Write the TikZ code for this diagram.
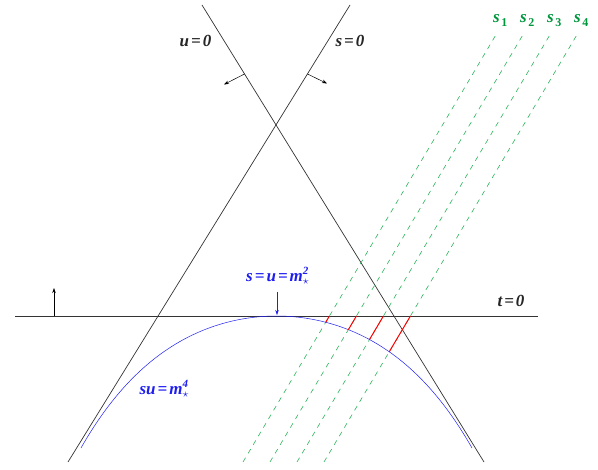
\documentclass[tikz,border=0pt]{standalone}
\usepackage{fontspec}
\setmainfont{Liberation Serif}
\usetikzlibrary{arrows.meta,intersections}
\definecolor{lblgreen}{RGB}{0,150,60}
\definecolor{dashgreen}{RGB}{40,180,90}
\definecolor{myblue}{RGB}{30,30,240}
\newcommand\eqs{\hspace{0.12em}=\hspace{0.12em}}
\newcommand\supsub[1]{\mbox{\rlap{\raisebox{7.5pt}{\fontsize{11}{11}\selectfont #1}}\raisebox{-3pt}{$\scriptstyle\star$}}}
\newcommand\subs[1]{\hspace{1.5pt}\raisebox{-4pt}{\fontsize{12}{12}\selectfont\upshape #1}}
\begin{document}
\begin{tikzpicture}[x=1pt,y=-1pt,
  lbl/.style={font=\fontsize{17}{19}\selectfont\bfseries\itshape, inner sep=0pt, anchor=base},
  axis/.style={black!80, line width=0.7pt},
  gdash/.style={dashgreen, line width=0.6pt, dash pattern=on 5pt off 5pt},
  redseg/.style={red, line width=1pt},
  arr/.style={-{Stealth[length=5pt,width=3.5pt]}, line width=0.5pt}]
\useasboundingbox (0,0) rectangle (598,470);
% main lines
\coordinate (uA) at (202,5);   \coordinate (uB) at (484,462);
\coordinate (sA) at (350,5);   \coordinate (sB) at (68,462);
\coordinate (tA) at (15,316);  \coordinate (tB) at (538,316);
\draw[axis] (uA) -- (uB);
\draw[axis] (sA) -- (sB);
\draw[axis, name path=tline] (tA) -- (tB);
% green dashed lines
\coordinate (g1b) at (243,462); \coordinate (g1t) at (497,33);
\coordinate (g2b) at (270,462); \coordinate (g2t) at (524,33);
\coordinate (g3b) at (297,462); \coordinate (g3t) at (551,33);
\coordinate (g4b) at (324,462); \coordinate (g4t) at (578,33);
\draw[gdash, name path=g1] (g1b) -- (g1t);
\draw[gdash, name path=g2] (g2b) -- (g2t);
\draw[gdash, name path=g3] (g3b) -- (g3t);
\draw[gdash, name path=g4] (g4b) -- (g4t);
% curve su = m^4
\draw[myblue, line width=0.5pt, name path=curve]
  plot[domain=-195.5:195.5, samples=120] ({276.5+\x}, {316+50.7*(cosh(\x/100)-1)});
% red segments
\path[name intersections={of=curve and g1, by=c1}];
\path[name intersections={of=curve and g2, by=c2}];
\path[name intersections={of=curve and g3, by=c3}];
\path[name intersections={of=curve and g4, by=c4}];
\path[name intersections={of=tline and g1, by=r1}];
\path[name intersections={of=tline and g2, by=r2}];
\path[name intersections={of=tline and g3, by=r3}];
\path[name intersections={of=tline and g4, by=r4}];
\draw[redseg] (r1) -- (c1);
\draw[redseg] (r2) -- (c2);
\draw[redseg] (r3) -- (c3);
\draw[redseg] (r4) -- (c4);
% arrows
\coordinate (ua1) at (244.5,74); \coordinate (ua2) at (224,84.5);
\coordinate (sa1) at (307.5,74); \coordinate (sa2) at (327,83.5);
\coordinate (ta1) at (54,316);   \coordinate (ta2) at (54,288);
\coordinate (ba1) at (277,292);  \coordinate (ba2) at (277,315);
\draw[arr] (ua1) -- (ua2);
\draw[arr] (sa1) -- (sa2);
\draw[arr] (ta1) -- (ta2);
\draw[arr, myblue] (ba1) -- (ba2);
% labels
\node[lbl, black!85] (lu) at (195.5,47) {u\eqs 0};
\node[lbl, black!85] (ls) at (350,47) {s\eqs 0};
\node[lbl, black!85] (lt) at (511,307) {t\eqs 0};
\node[lbl, myblue] (lsu) at (277.5,282) {s\eqs u\eqs m\supsub{2}};
\node[lbl, myblue] (lsu4) at (164,395) {su\eqs m\supsub{4}};
\node[lbl, lblgreen, anchor=base west] (s1) at (493,23) {s\subs{1}};
\node[lbl, lblgreen, anchor=base west] (s2) at (520,23) {s\subs{2}};
\node[lbl, lblgreen, anchor=base west] (s3) at (547,23) {s\subs{3}};
\node[lbl, lblgreen, anchor=base west] (s4) at (574,23) {s\subs{4}};
\end{tikzpicture}
\end{document}
